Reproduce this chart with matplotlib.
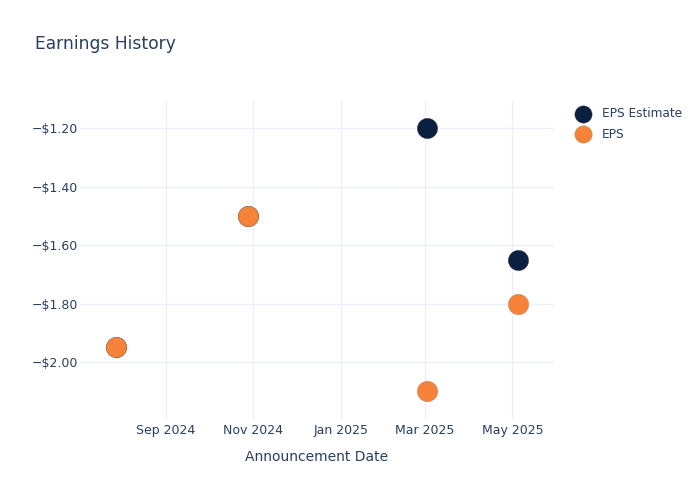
import datetime as dt
import matplotlib
matplotlib.use("Agg")
import matplotlib.pyplot as plt
import matplotlib.dates as mdates
from matplotlib.ticker import FuncFormatter

# datos
dates = [dt.date(2024, 7, 28), dt.date(2024, 10, 28), dt.date(2025, 3, 2), dt.date(2025, 5, 5)]
eps_estimate = [-1.95, -1.50, -1.20, -1.65]
eps_actual = [-1.95, -1.50, -2.10, -1.80]
y_ticks = [-2.00, -1.80, -1.60, -1.40, -1.20]
x_ticks = [dt.date(2024, 9, 1), dt.date(2024, 11, 1), dt.date(2025, 1, 1),
           dt.date(2025, 3, 1), dt.date(2025, 5, 1)]

TEXT = '#2a3f5f'
GRID = '#ebf0f8'
NAVY = '#0b1f41'
ORANGE = '#f7823a'

plt.rcParams['font.family'] = ['DejaVu Sans']

fig = plt.figure(figsize=(7, 5), dpi=100)
ax = fig.add_axes([80 / 700, 80 / 500, 474 / 700, 320 / 500])

ax.scatter(dates, eps_estimate, s=215, color=NAVY, edgecolor='#444444',
           linewidth=0.25, label='EPS Estimate', zorder=3)
ax.scatter(dates, eps_actual, s=215, color=ORANGE, edgecolor='#9a7050',
           linewidth=0.25, label='EPS', zorder=4)

ax.set_xlim(dt.date(2024, 7, 3), dt.date(2025, 5, 30))
ax.set_ylim(-2.198, -1.104)
ax.set_xticks(x_ticks)
ax.xaxis.set_major_formatter(mdates.DateFormatter('%b %Y'))
ax.set_yticks(y_ticks)
ax.yaxis.set_major_formatter(FuncFormatter(
    lambda v, p: ('\u2212' if v < 0 else '') + f'${abs(v):.2f}'))

ax.grid(True, color=GRID, linewidth=1)
ax.set_axisbelow(True)
for s in ax.spines.values():
    s.set_visible(False)
ax.tick_params(length=0, colors=TEXT, labelsize=9)
ax.tick_params(axis='y', pad=1.5)
ax.tick_params(axis='x', pad=3)

ax.set_xlabel('Announcement Date', color=TEXT, fontsize=10, labelpad=9)
fig.text(35 / 700, 1 - 44 / 500, 'Earnings History', color=TEXT,
         fontsize=12.3, va='center', ha='left')

leg = ax.legend(loc='upper left', bbox_to_anchor=(1.02, 1.0), frameon=False,
                fontsize=8.7, labelcolor=TEXT, handletextpad=0.6,
                markerscale=0.85, borderaxespad=0.2, labelspacing=0.6)

fig.savefig('out.png', dpi=100)
